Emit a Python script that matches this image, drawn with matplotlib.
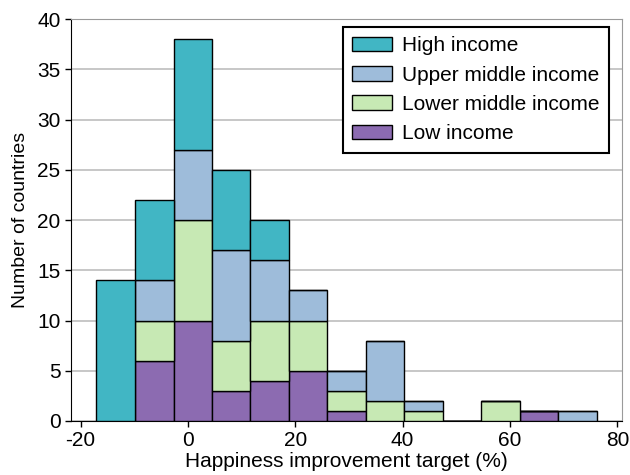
import numpy as np
import matplotlib
matplotlib.use('Agg')
import matplotlib.pyplot as plt

# ---- Data ----
bin_edges = [-17.1, -9.9, -2.7, 4.4, 11.6, 18.8, 25.9, 33.1, 40.3, 47.5, 54.6, 61.8, 69.0, 76.2]
low_income          = [0, 6, 10, 3, 4, 5, 1, 0, 0, 0, 0, 1, 0]
lower_middle_income = [0, 4, 10, 5, 6, 5, 2, 2, 1, 0, 2, 0, 0]
upper_middle_income = [0, 4, 7, 9, 6, 3, 2, 6, 1, 0, 0, 0, 1]
high_income         = [14, 8, 11, 8, 4, 0, 0, 0, 0, 0, 0, 0, 0]

series = [
    ('Low income',          low_income,          '#8C6BB1'),
    ('Lower middle income', lower_middle_income, '#C7E9B4'),
    ('Upper middle income', upper_middle_income, '#9EBCDA'),
    ('High income',         high_income,         '#41B6C4'),
]

plt.rcParams['font.family'] = ['Liberation Sans', 'DejaVu Sans']
plt.rcParams['axes.unicode_minus'] = False

edges = np.array(bin_edges)
lefts = edges[:-1]
widths = np.diff(edges)

fig = plt.figure(figsize=(6.3, 4.75), dpi=100)
ax = fig.add_axes([0.1127, 0.1137, 0.874, 0.846])

bottom = np.zeros(len(lefts))
handles = {}
for name, vals, color in series:
    vals = np.array(vals, dtype=float)
    h = ax.bar(lefts, vals, width=widths, bottom=bottom, align='edge',
               color=color, edgecolor='black', linewidth=1.0, label=name, zorder=3)
    handles[name] = h
    bottom += vals

ax.set_xlim(-21.8, 80.8)
ax.set_ylim(0, 40)
ax.set_xticks([-20, 0, 20, 40, 60, 80])
ax.set_yticks(range(0, 41, 5))
ax.tick_params(axis='both', direction='out', length=4, labelsize=15, width=1)
ax.yaxis.grid(True, color='#bdbdbd', linewidth=1.2, zorder=0)
ax.set_axisbelow(True)

for s in ['top', 'right']:
    ax.spines[s].set_color('#9a9a9a')
for s in ['left', 'bottom']:
    ax.spines[s].set_color('black')

ax.set_xlabel('Happiness improvement target (%)', fontsize=15, labelpad=1)
ax.set_ylabel('Number of countries', fontsize=14, labelpad=6)

order = ['High income', 'Upper middle income', 'Lower middle income', 'Low income']
leg = ax.legend([handles[n] for n in order], order, loc='upper right',
                bbox_to_anchor=(0.977, 0.981), borderaxespad=0, fontsize=15,
                frameon=True, fancybox=False, edgecolor='black', framealpha=1,
                handlelength=1.9, handleheight=0.7, labelspacing=0.5,
                borderpad=0.45, handletextpad=0.5)
leg.get_frame().set_linewidth(1.5)

fig.savefig('out.png', dpi=100)
